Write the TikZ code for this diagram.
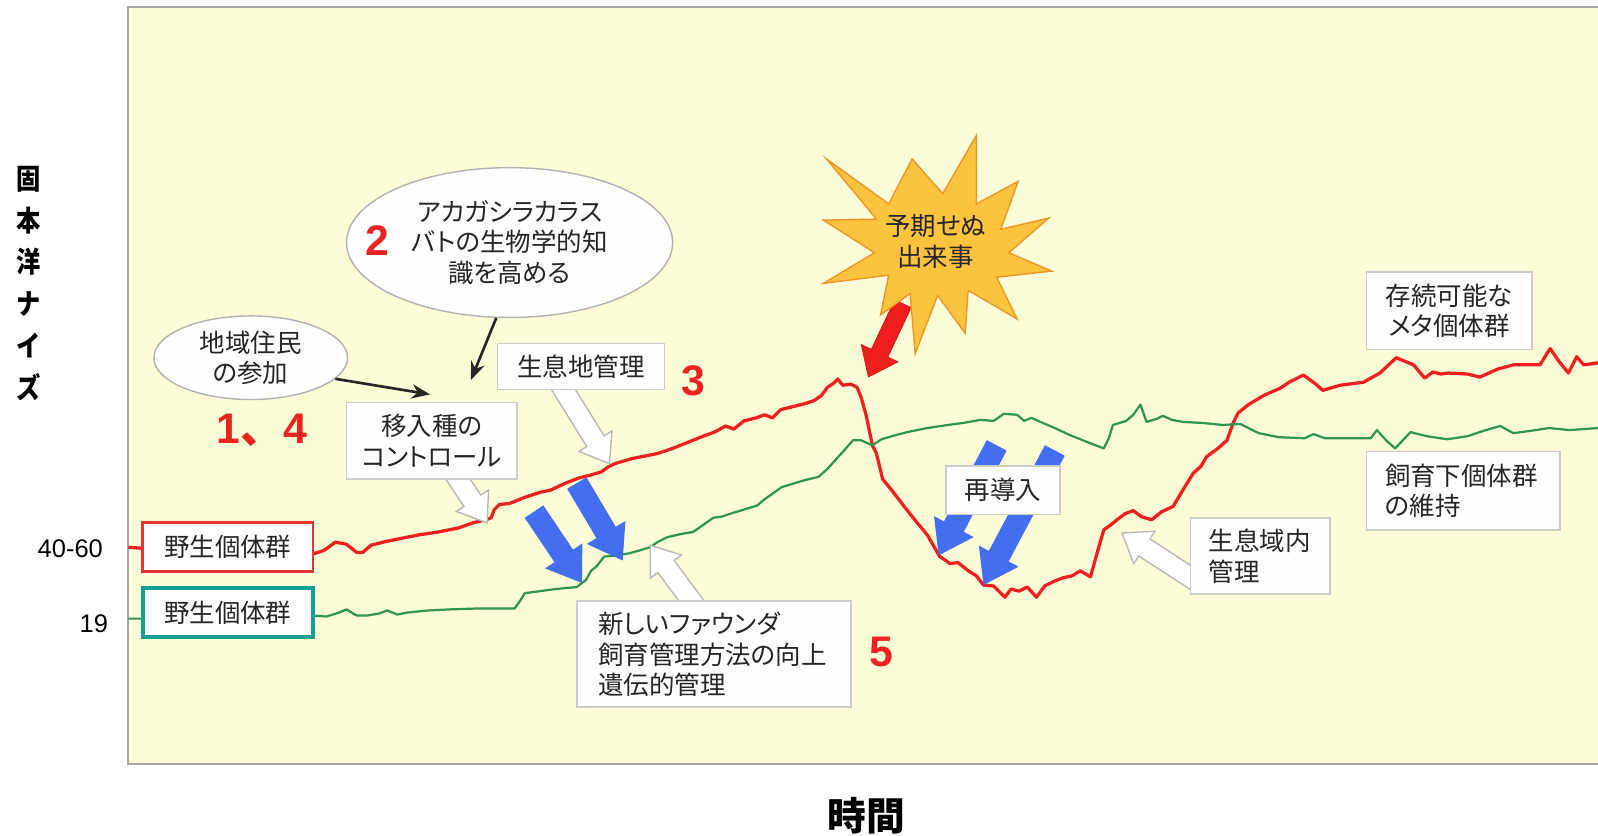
\documentclass[tikz,border=0pt]{standalone}
\usepackage{fontspec}
\setmainfont{Liberation Sans}
\newfontfamily\jp{Noto Sans CJK JP}[CharacterWidth=AlternateProportional]
\newfontfamily\jpfull{Noto Sans CJK JP}
\usetikzlibrary{calc,shapes.geometric,arrows.meta}
\definecolor{bgY}{RGB}{252,252,215}
\definecolor{lnRed}{RGB}{240,32,32}
\definecolor{lnGreen}{RGB}{46,150,80}
\definecolor{numRed}{RGB}{235,35,35}
\definecolor{arrBlue}{RGB}{68,110,240}
\definecolor{arrRed}{RGB}{240,30,30}
\definecolor{boxTeal}{RGB}{20,158,148}
\definecolor{boxRed}{RGB}{232,52,52}
\definecolor{starFill}{RGB}{252,196,62}
\definecolor{starEdge}{RGB}{240,150,40}
\definecolor{boxFill}{RGB}{254,254,252}
% block arrow: style, tail, tip, half shaft, half head, head length
\newcommand{\blockarr}[6]{%
  \coordinate (bh) at ($(#3)!#6!(#2)$);
  \path[#1] ($(#2)!#4!90:(#3)$) -- ($(bh)!#4!90:(#3)$) -- ($(bh)!#5!90:(#3)$) -- (#3)
    -- ($(bh)!#5!-90:(#3)$) -- ($(bh)!#4!-90:(#3)$) -- ($(#2)!#4!-90:(#3)$) -- cycle;}
\begin{document}
\begin{tikzpicture}[x=0.5pt,y=-0.5pt,
  lbl/.style={draw=gray!40, fill=boxFill, line width=0.8pt, font=\jp\fontsize{12.5}{15}\selectfont, inner sep=0pt, align=center, text=black!85},
  lblL/.style={lbl, align=left},
  bubble/.style={ellipse, draw=gray!60, fill=boxFill, line width=0.7pt, font=\jp\fontsize{12.5}{15}\selectfont, inner sep=0pt, align=center, text=black!85},
  redline/.style={draw=lnRed, line width=1.6pt, line join=round},
  greenline/.style={draw=lnGreen, line width=1.1pt, line join=round},
  whitearr/.style={fill=white, draw=gray!55, line width=0.7pt},
  bluearr/.style={fill=arrBlue, draw=none},
  redarr/.style={fill=arrRed, draw=arrRed!85!black, line width=0.3pt},
  blk/.style={-{Stealth[length=9pt,width=7pt]}, line width=1.3pt, draw=black!85},
  num/.style={font=\bfseries\fontsize{21}{24}\selectfont, text=numRed, inner sep=0pt},
  tick/.style={font=\fontsize{12.5}{15}\selectfont, inner sep=0pt},
  wild/.style={lbl, fill=white, minimum width=83.5pt, minimum height=24pt},
]
\useasboundingbox (0,0) rectangle (1568,820);
\fill[white] (0,0) rectangle (1568,820);
\draw[fill=bgY, draw=gray!70, line width=1pt] (126,7) rectangle (1590,750);

% axis labels
\node[font=\jp\bfseries\fontsize{14}{20.5}\selectfont, align=center, xscale=0.85, transform shape, inner sep=0pt] (ylabel) at (28,278) {固\\本\\洋\\ナ\\イ\\ズ};
\node[font=\jp\bfseries\fontsize{19}{22}\selectfont, inner sep=0pt] (xlabel) at (850,800) {時間};
\node[tick] (t4060) at (69,538) {40-60};
\node[tick] (t19) at (92,612) {19};

% population lines
\draw[redline] plot coordinates {(126,537) (140,538) (309,543) (318,540) (329,532) (340,534) (350,542) (356,542) (364,535) (380,531) (395,528) (410,525) (430,522) (450,518) (464,513) (477,510) (482,508) (485,500) (490,495) (500,494) (515,488) (530,483) (540,481) (555,474) (568,469) (580,466) (590,463) (597,458) (603,455) (620,450) (645,445) (660,440) (675,434) (690,428) (701,424) (712,418) (720,421) (730,413) (742,410) (750,407) (758,410) (766,402) (778,399) (790,396) (799,393) (806,388) (812,380) (818,376) (822,372) (827,378) (835,377) (841,380) (845,390) (850,408) (856,437) (860,445) (866,470) (875,481) (888,498) (900,513) (910,525) (922,546) (928,550) (932,553) (940,552) (950,560) (958,565) (965,574) (975,575) (986,586) (992,578) (1000,580) (1008,576) (1017,586) (1025,575) (1035,570) (1043,567) (1052,565) (1060,560) (1070,566) (1075,548) (1083,520) (1090,515) (1096,510) (1104,504) (1112,501) (1120,507) (1130,510) (1140,502) (1151,497) (1160,482) (1171,464) (1178,458) (1184,448) (1195,440) (1204,432) (1210,415) (1215,405) (1225,397) (1240,388) (1256,381) (1265,375) (1279,368) (1290,376) (1298,383) (1315,378) (1338,375) (1354,366) (1370,351) (1387,358) (1398,371) (1406,365) (1414,367) (1421,366) (1440,367) (1452,370) (1470,362) (1485,358) (1511,358) (1521,342) (1530,355) (1539,366) (1547,350) (1554,358) (1568,356)};
\draw[greenline] plot coordinates {(126,607) (140,607) (308,604) (320,605) (333,601) (340,598) (350,604) (360,604) (372,602) (380,599) (390,603) (400,601) (420,599) (440,598) (470,597) (490,597) (505,597) (510,590) (515,582) (530,580) (545,578) (566,576) (575,569) (580,560) (585,556) (593,546) (605,545) (617,543) (628,540) (638,537) (645,532) (655,527) (668,524) (680,522) (690,515) (700,508) (708,507) (720,503) (730,500) (743,496) (750,490) (760,483) (767,478) (780,474) (790,471) (803,468) (812,460) (820,451) (830,440) (837,432) (845,432) (856,437) (865,431) (875,428) (890,424) (910,420) (930,417) (945,415) (962,412) (975,413) (985,406) (998,407) (1005,413) (1012,410) (1021,414) (1035,420) (1050,427) (1065,433) (1083,440) (1088,430) (1092,417) (1105,413) (1112,407) (1119,397) (1125,414) (1135,411) (1141,408) (1150,412) (1161,414) (1180,415) (1200,417) (1217,416) (1235,425) (1255,429) (1280,430) (1289,426) (1300,430) (1320,430) (1345,430) (1351,422) (1360,432) (1369,440) (1384,424) (1400,428) (1420,431) (1440,428) (1458,422) (1472,418) (1485,425) (1500,423) (1520,420) (1540,422) (1568,420)};

% arrow end points
\coordinate (w1a) at (446,465); \coordinate (w1b) at (478,513);
\coordinate (w2a) at (549,376); \coordinate (w2b) at (598,455);
\coordinate (w3a) at (684,597); \coordinate (w3b) at (638,535);
\coordinate (w4a) at (1178,573); \coordinate (w4b) at (1101,523);
\coordinate (b1a) at (524,502); \coordinate (b1b) at (571,572);
\coordinate (b2a) at (566,474); \coordinate (b2b) at (611,550);
\coordinate (b3a) at (978,437); \coordinate (b3b) at (921,545);
\coordinate (b4a) at (1035,442); \coordinate (b4b) at (965,574);
\coordinate (r1a) at (886,298); \coordinate (r1b) at (852,370);

% block arrows
\blockarr{whitearr}{w1a}{w1b}{5pt}{9.5pt}{13pt}
\blockarr{whitearr}{w2a}{w2b}{5pt}{9.5pt}{13pt}
\blockarr{whitearr}{w3a}{w3b}{5pt}{9.5pt}{13pt}
\blockarr{whitearr}{w4a}{w4b}{5pt}{9.5pt}{13pt}
\blockarr{bluearr}{b1a}{b1b}{5.5pt}{11pt}{16pt}
\blockarr{bluearr}{b2a}{b2b}{5.5pt}{11pt}{16pt}
\blockarr{bluearr}{b3a}{b3b}{5.5pt}{11pt}{16pt}
\blockarr{bluearr}{b4a}{b4b}{5.5pt}{11pt}{16pt}
\blockarr{redarr}{r1a}{r1b}{4.5pt}{10pt}{13pt}

% wild population boxes
\node[wild, draw=boxRed, line width=1.3pt] (wildR) at (223.5,536.5) {野生個体群};
\node[wild, draw=boxTeal, line width=2pt] (wildG) at (223.5,601) {野生個体群};

% bubbles
\node[bubble, minimum width=95pt, minimum height=41pt] (e1) at (246,351) {地域住民\\の参加};
\node[bubble, minimum width=160pt, minimum height=73.5pt] (e2) at (500,238) {アカガシラカラス\\バトの生物学的知\\識を高める};
\coordinate (t1) at (422,387);
\coordinate (t2) at (462,373);
\draw[blk] (e1.-14) -- (t1);
\draw[blk] (e2.-100) -- (t2);

% label boxes
\node[lbl, minimum width=83.5pt, minimum height=37.5pt] (imyu) at (423.5,432.5) {移入種の\\コントロール};
\node[lbl, minimum width=82pt, minimum height=22.5pt] (habitat) at (570,359.5) {生息地管理};
\node[lbl, minimum width=56pt, minimum height=24pt] (reintro) at (984,481) {再導入};
\node[lblL, text width=50.5pt, inner xsep=9pt, minimum height=37.5pt] (insitu) at (1236.5,545.5) {生息域内\\管理};
\node[lbl, minimum width=81pt, minimum height=38pt] (meta) at (1422,305) {存続可能な\\メタ個体群};
\node[lblL, text width=77pt, inner xsep=9pt, minimum height=38.5pt] (captive) at (1436,481.5) {飼育下個体群\\の維持};
\node[lblL, text width=113.5pt, inner xsep=10.5pt, minimum height=52pt] (founder) at (700.5,642) {新しいファウンダ\\飼育管理方法の向上\\遺伝的管理};

% numbers
\node[num] (n14) at (257,422) {1{\jpfull 、}4};
\node[num] (n2) at (370,236) {2};
\node[num] (n3) at (680,374) {3};
\node[num] (n5) at (865,640) {5};

% burst
\draw[fill=starFill, draw=starEdge, line width=0.7pt, line join=miter]
  (811,156) -- (872,200) -- (895,156) -- (925,190) -- (958,133) -- (958,200)
  -- (999,178) -- (982,225) -- (1029,214) -- (990,248) -- (1032,266) -- (978,272)
  -- (998,313) -- (950,285) -- (947,327) -- (920,290) -- (898,347) -- (893,288)
  -- (864,309) -- (872,270) -- (808,278) -- (858,248) -- (808,216) -- (860,215) -- cycle;
\node[font=\jp\fontsize{12.5}{15}\selectfont, align=center, inner sep=0pt, text=black!85] (event) at (918,237) {予期せぬ\\出来事};
\end{tikzpicture}
\end{document}
